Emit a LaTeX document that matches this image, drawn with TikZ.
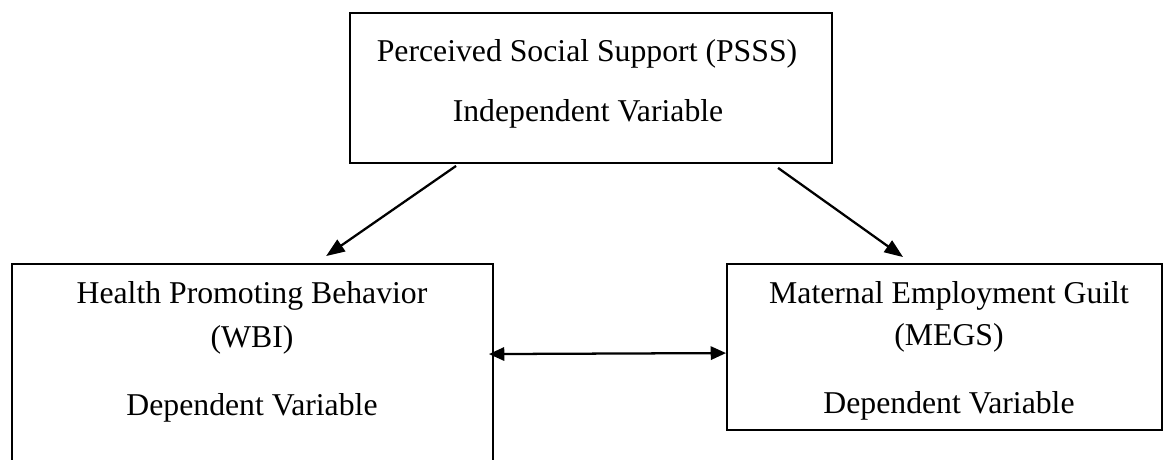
\documentclass[tikz,border=0pt]{standalone}
\usepackage{fontspec}
\setmainfont{Liberation Serif}
\usetikzlibrary{arrows.meta,calc}
\begin{document}
\begin{tikzpicture}[x=0.75pt,y=-0.75pt,
  box/.style={draw=black,line width=1.4pt,rectangle,inner sep=0pt},
  txt/.style={anchor=base,inner sep=0pt,font=\fontsize{23.8}{28}\selectfont},
  conn/.style={line width=1.7pt,-{Triangle[length=14pt,width=10.5pt]}},
  dconn/.style={line width=1.7pt,{Triangle[length=11.5pt,width=10pt]}-{Triangle[length=11.5pt,width=10pt]}}]
\useasboundingbox (0,0) rectangle (1165,460);
\clip (0,0) rectangle (1165,460);
% boxes
\node[box,minimum width=482*0.75pt,minimum height=150*0.75pt] (top) at (591,88) {};
\node[box,minimum width=481*0.75pt,minimum height=230*0.75pt] (left) at (252.5,379) {};
\node[box,minimum width=435*0.75pt,minimum height=166*0.75pt] (right) at (944.5,347) {};
% texts
\node[txt] (t1) at (587,62) {Perceived Social Support (PSSS)};
\node[txt] (t2) at (588,122) {Independent Variable};
\node[txt] (l1) at (252,303) {Health Promoting Behavior};
\node[txt] (l2) at (252,347) {(WBI)};
\node[txt] (l3) at (252,415) {Dependent Variable};
\node[txt] (r1) at (949,303) {Maternal Employment Guilt};
\node[txt] (r2) at (949,345) {(MEGS)};
\node[txt] (r3) at (949,413) {Dependent Variable};
% connectors
\coordinate (a1) at ($(top.south west)+(107,2)$);
\coordinate (a2) at ($(left.north west)+(315,-7)$);
\coordinate (b1) at ($(top.south west)+(429,4)$);
\coordinate (b2) at ($(right.north west)+(177,-6)$);
\coordinate (c1) at ($(left.north east)+(-5,91)$);
\coordinate (c2) at ($(right.north west)+(0,90)$);
\draw[conn] (a1) -- (a2);
\draw[conn] (b1) -- (b2);
\draw[dconn] (c1) -- (c2);
\end{tikzpicture}
\end{document}
